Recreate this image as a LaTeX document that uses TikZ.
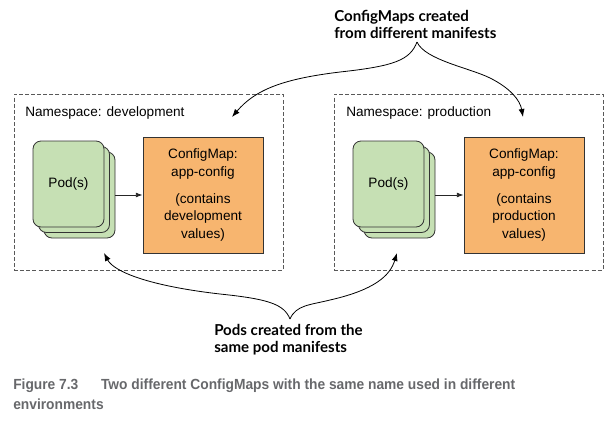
\documentclass[tikz,border=0pt]{standalone}
\usepackage{fontspec}
\setmainfont{Liberation Sans}
\newfontfamily\annfont{Lato}
\newfontfamily\capfont{Liberation Sans}[FakeStretch=0.94]
\usetikzlibrary{arrows.meta}
\definecolor{podgreen}{HTML}{C6E0B4}
\definecolor{cmorange}{HTML}{F7B56F}
\definecolor{capgray}{HTML}{67686B}
\begin{document}
\begin{tikzpicture}[x=0.75pt,y=-0.75pt,
  nsbox/.style={draw=black!65, line width=0.6pt, dash pattern=on 3pt off 1.6pt,
    inner sep=0pt, minimum width=201.75pt, minimum height=132pt},
  nslabel/.style={anchor=base west, inner sep=0pt, font=\fontsize{10.2pt}{12pt}\selectfont},
  podcard/.style={draw=black!80, fill=podgreen, line width=0.6pt, rounded corners=6pt,
    inner sep=0pt, minimum width=53.25pt, minimum height=64.5pt,
    font=\fontsize{10.2pt}{12pt}\selectfont},
  cmbox/.style={draw=black!80, fill=cmorange, line width=0.6pt, inner sep=0pt,
    minimum width=90pt, minimum height=87pt, align=center,
    font=\fontsize{10.2pt}{13.1pt}\selectfont},
  uses/.style={-{Latex[length=5pt,width=3.6pt]}, line width=0.6pt, black!85},
  callout/.style={-{Latex[length=6pt,width=4.5pt]}, line width=0.6pt, black},
  annot/.style={anchor=west, inner sep=0pt, align=left,
    font=\annfont\bfseries\fontsize{11.3pt}{12.8pt}\selectfont},
  figcap/.style={anchor=north west, inner sep=0pt, align=left, text=capgray,
    font=\capfont\bfseries\fontsize{11pt}{15pt}\selectfont}]
\useasboundingbox (0,0) rectangle (614,422);

% namespaces
\node[nsbox] (nsDev) at (148.5,182) {};
\node[nsbox] (nsProd) at (468.5,182) {};
\node[nslabel] (nsDevLabel) at (25,116.5) {Namespace: development};
\node[nslabel] (nsProdLabel) at (346,116.5) {Namespace: production};

% development: pod stack and its ConfigMap
\node[podcard] (devPodC) at (79.5,195) {};
\node[podcard] (devPodB) at (74,189.5) {};
\node[podcard] (devPodA) at (68.5,184) {Pod(s)};
\node[cmbox] (devCm) at (203,195) {ConfigMap:\\app-config\\[7pt](contains\\development\\values)};
\draw[uses] (devPodC.east) -- (devCm.west);

% production: pod stack and its ConfigMap
\node[podcard] (prodPodC) at (399.5,195) {};
\node[podcard] (prodPodB) at (394,189.5) {};
\node[podcard] (prodPodA) at (388.5,184) {Pod(s)};
\node[cmbox] (prodCm) at (524,195) {ConfigMap:\\app-config\\[7pt](contains\\production\\values)};
\draw[uses] (prodPodC.east) -- (prodCm.west);

% callout: ConfigMaps
\node[annot] (cmNote) at (334,24) {ConfigMaps created\\from different manifests};
\coordinate (cmTip) at (417,42);
\coordinate (cmDevEnd) at (232,117);
\coordinate (cmProdEnd) at (523,117);
\draw[callout] (cmTip) .. controls (410,60) and (395,66) .. (340,72)
  .. controls (282,79) and (255,90) .. (cmDevEnd);
\draw[callout] (cmTip) .. controls (425,60) and (470,68) .. (490,78)
  .. controls (510,88) and (520,100) .. (cmProdEnd);

% callout: Pods
\node[annot] (podNote) at (214,340) {Pods created from the\\same pod manifests};
\coordinate (podTip) at (290,319);
\coordinate (podDevEnd) at (104,253);
\coordinate (podProdEnd) at (397,253);
\draw[callout] (podTip) .. controls (284,304) and (268,299) .. (220,294)
  .. controls (150,286) and (114,272) .. (podDevEnd);
\draw[callout] (podTip) .. controls (296,305) and (310,305) .. (330,300)
  .. controls (374,290) and (390,276) .. (podProdEnd);

% figure caption
\node[figcap] (caption) at (13,379) {Figure 7.3\hspace{17pt}Two different ConfigMaps with the same name used in different\\environments};
\end{tikzpicture}
\end{document}
